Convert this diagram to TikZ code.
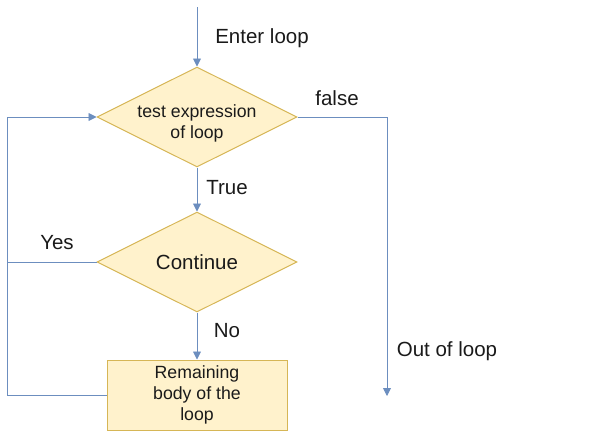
\documentclass[tikz,border=0pt]{standalone}
\usepackage{fontspec}
\setmainfont{Liberation Sans}
\usetikzlibrary{shapes.geometric,arrows.meta}
\definecolor{boxfill}{HTML}{FFF2CC}
\definecolor{boxline}{HTML}{D6B656}
\definecolor{arrowline}{HTML}{6C8EBF}
\definecolor{txt}{HTML}{1A1A1A}
\begin{document}
\begin{tikzpicture}[x=1pt,y=-1pt,
  decision/.style={diamond,draw=boxline,fill=boxfill,line width=1pt,minimum width=200pt,minimum height=100pt,inner sep=0pt,aspect=2,text=txt,align=center},
  process/.style={rectangle,draw=boxline,fill=boxfill,line width=1pt,minimum width=180pt,minimum height=70pt,inner sep=0pt,text=txt,align=center},
  conn/.style={draw=arrowline,line width=0.9pt},
  arr/.style={conn,-{Triangle[width=8pt,length=8pt]}},
  lbl/.style={text=txt,font=\fontsize{20.5}{24}\selectfont,inner sep=0pt},
  small/.style={font=\fontsize{17.7}{21}\selectfont}]
\useasboundingbox (0,0) rectangle (602,431);
\node[decision] (d1) at (197,117) {};
\node[small,text=txt,align=center,inner sep=0pt] (d1text) at (197,123) {test expression\\of loop};
\node[decision,font=\fontsize{20.5}{24}\selectfont] (d2) at (197,262) {Continue};
\node[process,small] (rem) at (197,395) {Remaining\\body of the\\loop};
\coordinate (start) at (197,7);
\coordinate (outend) at (387,396);
\coordinate (corner) at (7,395);
\coordinate (yesend) at (7,262);
\draw[arr] (start) -- (d1.north);
\draw[arr] (d1.south) -- (d2.north);
\draw[arr] (d2.south) -- (rem.north);
\draw[arr] (d1.east) -| (outend);
\draw[conn] (d2.west) -- (yesend);
\draw[arr] (rem.west) -- (corner) |- (d1.west);
\node[lbl] (enter) at (262,38) {Enter loop};
\node[lbl] (false) at (337,98) {false};
\node[lbl] (true) at (227,188) {True};
\node[lbl] (yes) at (57,243) {Yes};
\node[lbl] (no) at (227,331) {No};
\node[lbl] (out) at (447,351) {Out of loop};
\end{tikzpicture}
\end{document}
